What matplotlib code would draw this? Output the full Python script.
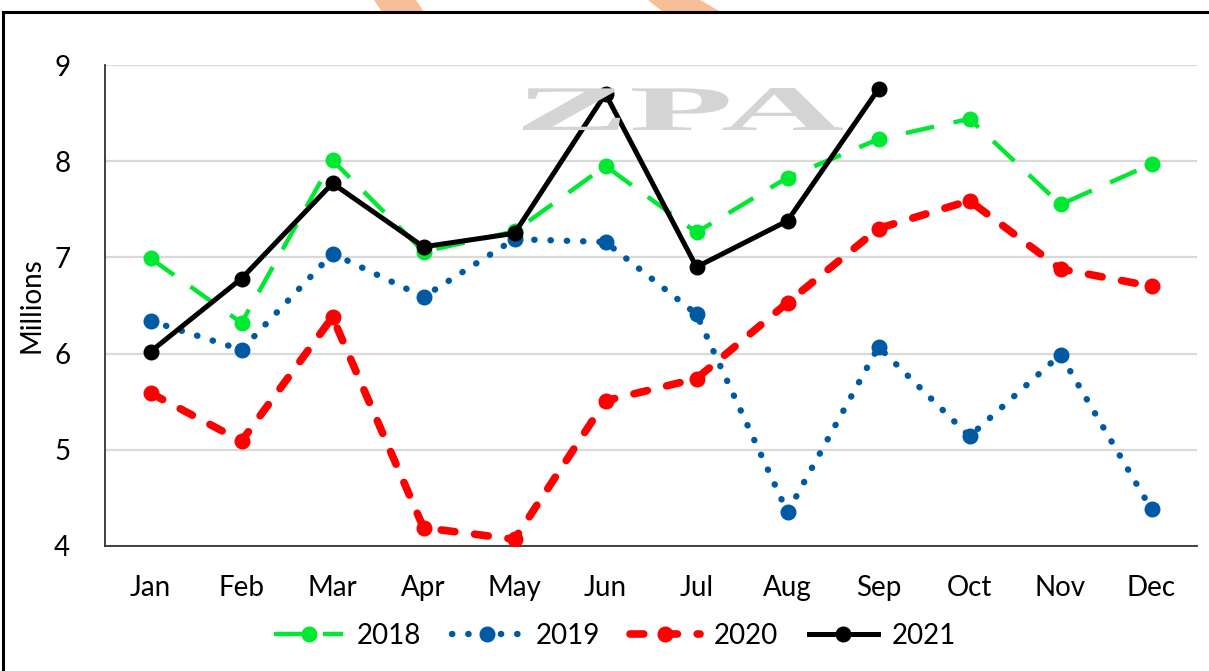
import matplotlib
matplotlib.use('Agg')
import matplotlib.pyplot as plt
from matplotlib.lines import Line2D
from matplotlib.patches import Polygon, PathPatch
from matplotlib.textpath import TextPath
from matplotlib.font_manager import FontProperties
from matplotlib.transforms import Affine2D, IdentityTransform

plt.rcParams['font.family'] = ['Lato', 'DejaVu Sans']

# data (millions)
months = ['Jan', 'Feb', 'Mar', 'Apr', 'May', 'Jun', 'Jul', 'Aug', 'Sep', 'Oct', 'Nov', 'Dec']
y2018 = [6.99, 6.32, 8.01, 7.06, 7.27, 7.95, 7.26, 7.83, 8.23, 8.44, 7.55, 7.97]
y2019 = [6.34, 6.04, 7.04, 6.59, 7.19, 7.16, 6.41, 4.35, 6.07, 5.14, 5.99, 4.38]
y2020 = [5.59, 5.09, 6.38, 4.19, 4.07, 5.51, 5.74, 6.53, 7.30, 7.59, 6.88, 6.70]
y2021 = [6.02, 6.78, 7.77, 7.11, 7.25, 8.70, 6.90, 7.38, 8.75]
yticks = [4, 5, 6, 7, 8, 9]

W, H = 1209, 671
fig = plt.figure(figsize=(W / 100, H / 100), dpi=100)
ax = fig.add_axes([105 / W, 1 - 546 / H, (1197 - 105) / W, (546 - 65) / H])

x = list(range(len(months)))

ax.plot(x, y2018, color='#00E832', lw=3.2, dashes=(6.5, 4.5),
        marker='o', ms=10.5, label='2018', zorder=3)
ax.plot(x, y2019, color='#0059A3', lw=4.6, dashes=(0.05, 2.5), dash_capstyle='round',
        marker='o', ms=10.5, label='2019', zorder=3)
ax.plot(x, y2020, color='#FF0000', lw=5.5, dashes=(1.8, 2.6), dash_capstyle='round',
        marker='o', ms=10.5, label='2020', zorder=3)
ax.plot(x[:len(y2021)], y2021, color='black', lw=3.6,
        marker='o', ms=10.5, label='2021', zorder=4)

ax.set_xlim(-0.5, len(months) - 0.5)
ax.set_ylim(4, 9)
ax.set_yticks(yticks)
ax.set_xticks(x)
ax.set_xticklabels(months)
ax.tick_params(axis='both', length=0, labelsize=20)
ax.tick_params(axis='y', pad=25)
ax.tick_params(axis='x', pad=21)
ax.grid(axis='y', color='#d9d9d9', lw=1.6)
ax.set_axisbelow(True)
for s in ['top', 'right']:
    ax.spines[s].set_visible(False)
ax.spines['left'].set_color('#333333')
ax.spines['bottom'].set_color('#333333')
ax.spines['left'].set_linewidth(1.3)
ax.spines['bottom'].set_linewidth(1.3)

ax.set_ylabel('Millions', fontsize=20)
ax.yaxis.set_label_coords(-0.055, 0.5)

fig.legend(loc='center', bbox_to_anchor=(615 / W, 1 - 636 / H), ncol=4,
           frameon=False, fontsize=20, handlelength=2.5, columnspacing=1.1,
           handletextpad=0.5)

# watermark "ZPA"
tp = TextPath((0, 0), 'ZPA', size=1, prop=FontProperties(family='Liberation Serif', weight='bold'))
ext = tp.get_extents()
sx = 320 / ext.width
sy = 42 / ext.height
tr = Affine2D().translate(-ext.x0, -ext.y0).scale(sx, sy).translate(523, H - 130)
fig.patches.append(PathPatch(tr.transform_path(tp), transform=IdentityTransform(),
                             facecolor='#d4d4d4', edgecolor='none', zorder=0.5, figure=fig))

# orange stripes at top edge
for pts in ([(374, H), (416, H), (424, H - 12), (382, H - 12)],
            [(648, H), (700, H), (721, H - 12), (663, H - 12)]):
    fig.patches.append(Polygon(pts, closed=True, transform=IdentityTransform(),
                               facecolor='#F7BF98', edgecolor='none', figure=fig))

# outer frame
fig.add_artist(Line2D([3 / W, 3 / W], [0, 1 - 12 / H], color='black', lw=2.2))
fig.add_artist(Line2D([3 / W, 1], [1 - 12 / H, 1 - 12 / H], color='black', lw=2.2))

fig.savefig('out.png', dpi=100)
